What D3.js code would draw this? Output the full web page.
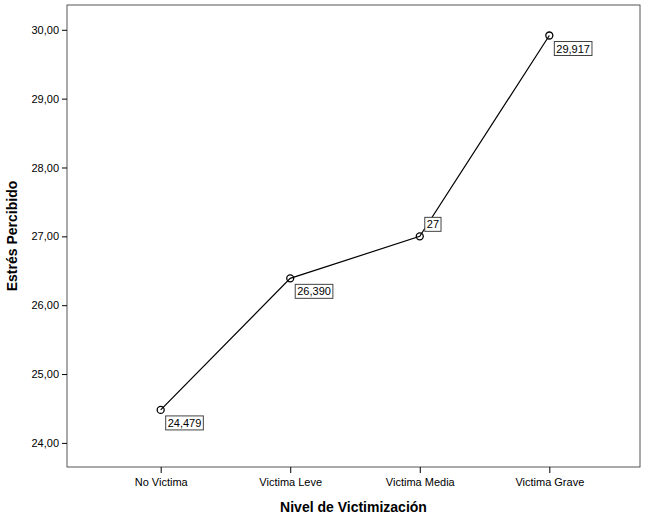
<!DOCTYPE html><html><head><meta charset="utf-8"><script src="https://cdn.jsdelivr.net/npm/d3@7"></script>
<style>body{margin:0;background:#fff}</style></head><body><svg id="c" width="650" height="522"></svg>
<script>
const categories=["No Victima","Victima Leve","Victima Media","Victima Grave"];
const values=[24.479,26.390,27.0,29.917];
const labels=["24,479","26,390","27","29,917"];
const yTicks=[24,25,26,27,28,29,30];
const svg=d3.select("#c");
const L=67,R=640,T=5,B=467;
const x=d3.scalePoint().domain(categories).range([L+3,R]).padding(0.7);
const y=d3.scaleLinear().domain([23.65,30.36]).range([B,T]);
svg.append("rect").attr("x",L).attr("y",T).attr("width",R-L).attr("height",B-T).attr("fill","none").attr("stroke","#555");
const ya=svg.append("g").attr("transform",`translate(${L},0)`).call(d3.axisLeft(y).tickValues(yTicks).tickSize(5).tickFormat(d=>d3.format(".2f")(d).replace(".",",")));
const xa=svg.append("g").attr("transform",`translate(0,${B})`).call(d3.axisBottom(x).tickSize(6).tickPadding(5));
[ya,xa].forEach(a=>{a.select(".domain").remove();a.selectAll("text").attr("font-family","Arial, Liberation Sans").attr("font-size",11).attr("fill","#000");a.selectAll("line").attr("stroke","#000");});
const line=d3.line().x((d,i)=>x(categories[i])).y(d=>y(d));
svg.append("path").datum(values).attr("d",line).attr("fill","none").attr("stroke","#000").attr("stroke-width",1.2);
svg.selectAll("circle.p").data(values).join("circle").attr("cx",(d,i)=>x(categories[i])).attr("cy",d=>y(d)).attr("r",3.5).attr("fill","none").attr("stroke","#000").attr("stroke-width",1.3);
values.forEach((v,i)=>{
  const px=x(categories[i]),py=y(v);
  const up=i===2;
  const g=svg.append("g");
  const t=g.append("text").attr("font-family","Arial, Liberation Sans").attr("font-size",11).attr("x",px+7).attr("y",up?py-8:py+17).text(labels[i]);
  const bb=t.node().getBBox();
  g.insert("rect","text").attr("x",bb.x-2).attr("y",bb.y-1).attr("width",bb.width+4).attr("height",bb.height+2).attr("fill","#fff").attr("stroke","#444");
});
svg.append("text").attr("x",(L+R)/2).attr("y",512).attr("text-anchor","middle").attr("font-family","Arial, Liberation Sans").attr("font-weight","bold").attr("font-size",14).text("Nivel de Victimización");
svg.append("text").attr("transform",`translate(17,${(T+B)/2}) rotate(-90)`).attr("text-anchor","middle").attr("font-family","Arial, Liberation Sans").attr("font-weight","bold").attr("font-size",14).text("Estrés Percibido");
</script></body></html>
